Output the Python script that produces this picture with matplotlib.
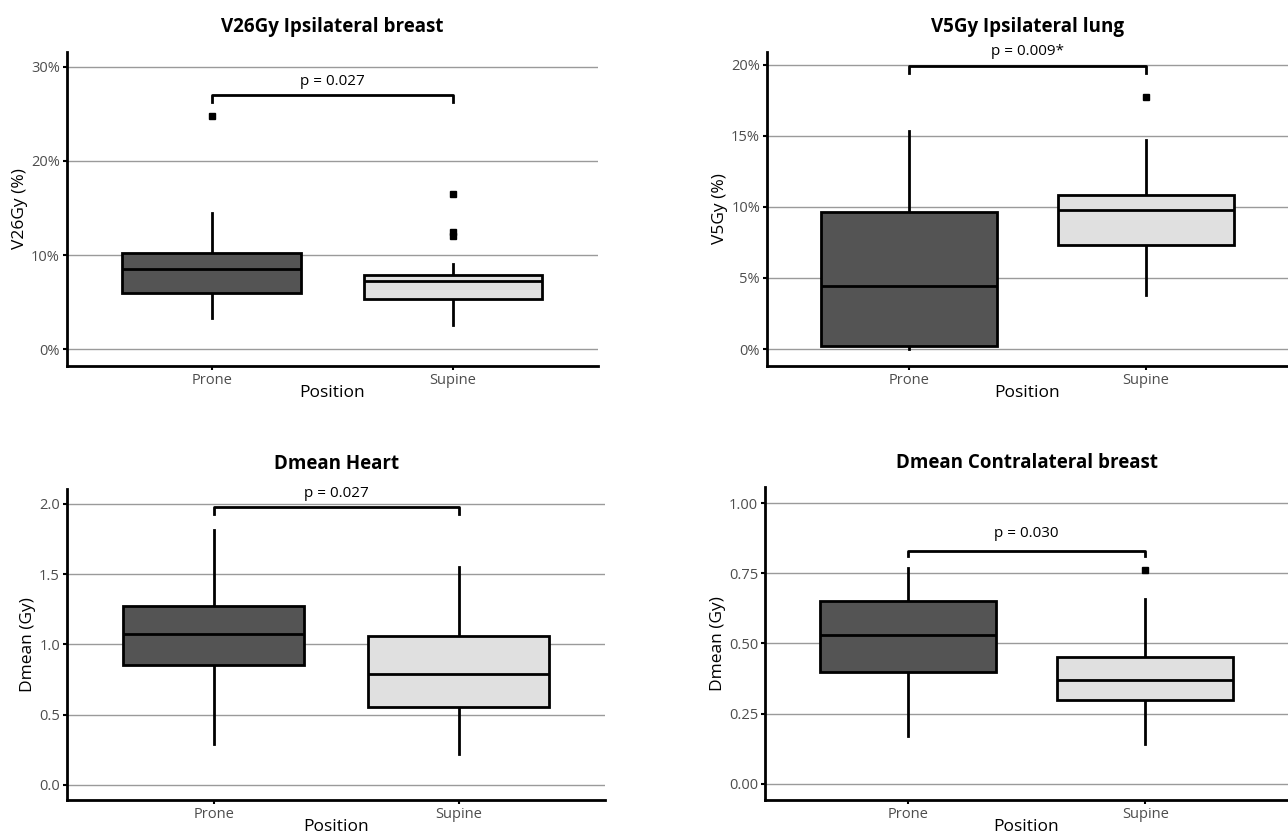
import numpy as np
import matplotlib
matplotlib.use("Agg")
import matplotlib.pyplot as plt
from matplotlib.ticker import FuncFormatter

plt.rcParams['font.family'] = ['Open Sans', 'DejaVu Sans']

positions = ["Prone", "Supine"]

# box stats per panel: (whislo, q1, med, q3, whishi, outliers)
v26_prone = (3.3, 6.0, 8.5, 10.2, 14.5, [24.8])
v26_supine = (2.6, 5.3, 7.2, 7.9, 9.1, [16.5, 12.5, 12.0])
v5_prone = (0.0, 0.2, 4.4, 9.6, 15.3, [])
v5_supine = (3.8, 7.3, 9.8, 10.8, 14.7, [17.7])
heart_prone = (0.29, 0.85, 1.07, 1.27, 1.81, [])
heart_supine = (0.22, 0.55, 0.79, 1.06, 1.55, [])
contra_prone = (0.17, 0.40, 0.53, 0.65, 0.77, [])
contra_supine = (0.14, 0.30, 0.37, 0.45, 0.66, [0.76])

titles = ["V26Gy Ipsilateral breast", "V5Gy Ipsilateral lung",
          "Dmean Heart", "Dmean Contralateral breast"]
ylabels = ["V26Gy (%)", "V5Gy (%)", "Dmean (Gy)", "Dmean (Gy)"]
pvals = ["p = 0.027", "p = 0.009*", "p = 0.027", "p = 0.030"]
bracket_y = [27.0, 19.9, 1.98, 0.83]
bracket_tip = [26.3, 19.4, 1.93, 0.81]
text_y = [27.6, 20.4, 2.02, 0.865]
yticks = [[0, 10, 20, 30], [0, 5, 10, 15, 20],
          [0.0, 0.5, 1.0, 1.5, 2.0], [0.0, 0.25, 0.50, 0.75, 1.00]]
ylims = [(-1.8, 31.6), (-1.2, 20.9), (-0.107, 2.107), (-0.057, 1.057)]
fmts = [lambda v, p: f"{v:.0f}%", lambda v, p: f"{v:.0f}%",
        lambda v, p: f"{v:.1f}", lambda v, p: f"{v:.2f}"]
data = [(v26_prone, v26_supine), (v5_prone, v5_supine),
        (heart_prone, heart_supine), (contra_prone, contra_supine)]

# axes rectangles [left, bottom, width, height] in figure fractions
rects = [[0.052, 0.561, 0.412, 0.377],
         [0.5955, 0.561, 0.4045, 0.377],
         [0.052, 0.041, 0.418, 0.373],
         [0.594, 0.041, 0.406, 0.375]]

fig = plt.figure(figsize=(12.88, 8.34), dpi=100)

for i in range(4):
    ax = fig.add_axes(rects[i])
    stats = []
    for s in data[i]:
        stats.append(dict(whislo=s[0], q1=s[1], med=s[2], q3=s[3], whishi=s[4],
                          fliers=s[5]))
    bp = ax.bxp(stats, positions=[1, 2], widths=0.74, patch_artist=True,
                showcaps=False,
                boxprops=dict(linewidth=2, edgecolor="black"),
                medianprops=dict(color="black", linewidth=2),
                whiskerprops=dict(color="black", linewidth=2),
                flierprops=dict(marker="s", markersize=4, markerfacecolor="black",
                                markeredgecolor="black"))
    bp['boxes'][0].set_facecolor("#545454")
    bp['boxes'][1].set_facecolor("#e0e0e0")
    for b in bp['boxes']:
        b.set_zorder(3)
    for m in bp['medians']:
        m.set_zorder(4)

    # significance bracket
    ax.plot([1, 1, 2, 2], [bracket_tip[i], bracket_y[i], bracket_y[i], bracket_tip[i]],
            color="black", linewidth=2, clip_on=False)
    ax.text(1.5, text_y[i], pvals[i], ha="center", va="bottom", fontsize=11)

    ax.set_xlim(0.4, 2.6)
    ax.set_ylim(*ylims[i])
    ax.set_yticks(yticks[i])
    ax.yaxis.set_major_formatter(FuncFormatter(fmts[i]))
    ax.set_xticks([1, 2])
    ax.set_xticklabels(positions)
    ax.grid(axis="y", color="#9a9a9a", linewidth=1)
    ax.set_axisbelow(True)
    for s in ["top", "right"]:
        ax.spines[s].set_visible(False)
    for s in ["left", "bottom"]:
        ax.spines[s].set_linewidth(2)
    ax.tick_params(axis="both", length=3, width=1.5, colors="black",
                   labelcolor="#4d4d4d", labelsize=10.5, pad=2)
    ax.set_xlabel("Position", fontsize=12.5, labelpad=-2)
    ax.set_ylabel(ylabels[i], fontsize=12.5, labelpad=2)
    ax.set_title(titles[i], fontsize=13.5, fontweight="bold", pad=14)

fig.savefig("out.png", dpi=100)
